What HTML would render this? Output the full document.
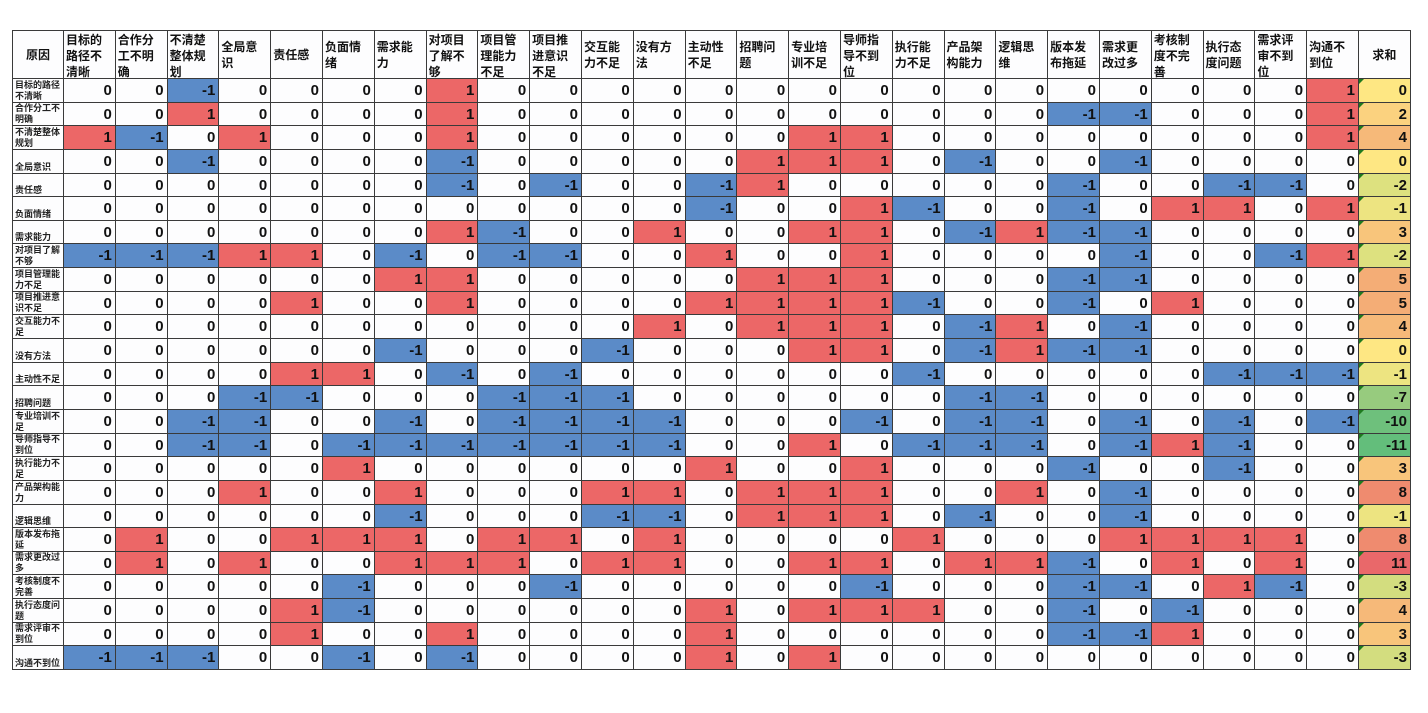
<!DOCTYPE html>
<html><head><meta charset="utf-8">
<style>
html,body{margin:0;padding:0;background:#fff;width:1428px;height:713px;overflow:hidden}
.g{position:absolute;left:12px;top:30px;display:grid;grid-template-columns:50px repeat(25,50.8px) 51px;grid-template-rows:47px repeat(25,22.65px);gap:1px;background:#3a3a3a;border:1px solid #3a3a3a}
.g>*{background:#fdfdfe;font-family:"Liberation Sans","Noto Sans CJK SC",sans-serif;overflow:hidden;box-sizing:border-box}
.t{font-size:12px;font-weight:bold;line-height:16px;padding:1px 2px;color:#111;display:flex;align-items:flex-start}
.t.c{align-items:center;justify-content:center}
.t.m{align-items:center}
.h{font-size:9px;line-height:11px;font-weight:bold;color:#222;padding:0 2px;display:flex;flex-direction:column;justify-content:flex-end}
b{font-size:15px;font-weight:bold;text-align:right;padding-right:3px;line-height:24px;color:#111;display:block}
b.r{background:#ec6767}
b.u{background:#5b8bc8}
.s{font-size:15px;font-weight:bold;text-align:right;padding-right:3px;line-height:24px;color:#111;position:relative}
.s:before{content:"";position:absolute;left:0;top:0;border-top:5px solid #1e7a1e;border-right:5px solid transparent}
</style></head><body>
<div class="g">
<div class="t c">原因</div><div class="t">目标的路径不清晰</div><div class="t">合作分工不明确</div><div class="t">不清楚整体规划</div><div class="t m">全局意识</div><div class="t m">责任感</div><div class="t m">负面情绪</div><div class="t m">需求能力</div><div class="t">对项目了解不够</div><div class="t">项目管理能力不足</div><div class="t">项目推进意识不足</div><div class="t m">交互能力不足</div><div class="t m">没有方法</div><div class="t m">主动性不足</div><div class="t m">招聘问题</div><div class="t m">专业培训不足</div><div class="t">导师指导不到位</div><div class="t m">执行能力不足</div><div class="t m">产品架构能力</div><div class="t m">逻辑思维</div><div class="t m">版本发布拖延</div><div class="t m">需求更改过多</div><div class="t">考核制度不完善</div><div class="t m">执行态度问题</div><div class="t">需求评审不到位</div><div class="t m">沟通不到位</div><div class="t c">求和</div>

<div class="h">目标的路径不清晰</div><b>0</b><b>0</b><b class=u>-1</b><b>0</b><b>0</b><b>0</b><b>0</b><b class=r>1</b><b>0</b><b>0</b><b>0</b><b>0</b><b>0</b><b>0</b><b>0</b><b>0</b><b>0</b><b>0</b><b>0</b><b>0</b><b>0</b><b>0</b><b>0</b><b>0</b><b class=r>1</b><div class="s" style="background:#fee783">0</div>

<div class="h">合作分工不明确</div><b>0</b><b>0</b><b class=r>1</b><b>0</b><b>0</b><b>0</b><b>0</b><b class=r>1</b><b>0</b><b>0</b><b>0</b><b>0</b><b>0</b><b>0</b><b>0</b><b>0</b><b>0</b><b>0</b><b>0</b><b class=u>-1</b><b class=u>-1</b><b>0</b><b>0</b><b>0</b><b class=r>1</b><div class="s" style="background:#fbd27f">2</div>

<div class="h">不清楚整体规划</div><b class=r>1</b><b class=u>-1</b><b>0</b><b class=r>1</b><b>0</b><b>0</b><b>0</b><b class=r>1</b><b>0</b><b>0</b><b>0</b><b>0</b><b>0</b><b>0</b><b class=r>1</b><b class=r>1</b><b>0</b><b>0</b><b>0</b><b>0</b><b>0</b><b>0</b><b>0</b><b>0</b><b class=r>1</b><div class="s" style="background:#f6b979">4</div>

<div class="h">全局意识</div><b>0</b><b>0</b><b class=u>-1</b><b>0</b><b>0</b><b>0</b><b>0</b><b class=u>-1</b><b>0</b><b>0</b><b>0</b><b>0</b><b>0</b><b class=r>1</b><b class=r>1</b><b class=r>1</b><b>0</b><b class=u>-1</b><b>0</b><b>0</b><b class=u>-1</b><b>0</b><b>0</b><b>0</b><b>0</b><div class="s" style="background:#fee783">0</div>

<div class="h">责任感</div><b>0</b><b>0</b><b>0</b><b>0</b><b>0</b><b>0</b><b>0</b><b class=u>-1</b><b>0</b><b class=u>-1</b><b>0</b><b>0</b><b class=u>-1</b><b class=r>1</b><b>0</b><b>0</b><b>0</b><b>0</b><b>0</b><b class=u>-1</b><b>0</b><b>0</b><b class=u>-1</b><b class=u>-1</b><b>0</b><div class="s" style="background:#dde17f">-2</div>

<div class="h">负面情绪</div><b>0</b><b>0</b><b>0</b><b>0</b><b>0</b><b>0</b><b>0</b><b>0</b><b>0</b><b>0</b><b>0</b><b>0</b><b class=u>-1</b><b>0</b><b>0</b><b class=r>1</b><b class=u>-1</b><b>0</b><b>0</b><b class=u>-1</b><b>0</b><b class=r>1</b><b class=r>1</b><b>0</b><b class=r>1</b><div class="s" style="background:#ede481">-1</div>

<div class="h">需求能力</div><b>0</b><b>0</b><b>0</b><b>0</b><b>0</b><b>0</b><b>0</b><b class=r>1</b><b class=u>-1</b><b>0</b><b>0</b><b class=r>1</b><b>0</b><b>0</b><b class=r>1</b><b class=r>1</b><b>0</b><b class=u>-1</b><b class=r>1</b><b class=u>-1</b><b class=u>-1</b><b>0</b><b>0</b><b>0</b><b>0</b><div class="s" style="background:#f8c57b">3</div>

<div class="h">对项目了解不够</div><b class=u>-1</b><b class=u>-1</b><b class=u>-1</b><b class=r>1</b><b class=r>1</b><b>0</b><b class=u>-1</b><b>0</b><b class=u>-1</b><b class=u>-1</b><b>0</b><b>0</b><b class=r>1</b><b>0</b><b>0</b><b class=r>1</b><b>0</b><b>0</b><b>0</b><b>0</b><b class=u>-1</b><b>0</b><b>0</b><b class=u>-1</b><b class=r>1</b><div class="s" style="background:#dde17f">-2</div>

<div class="h">项目管理能力不足</div><b>0</b><b>0</b><b>0</b><b>0</b><b>0</b><b>0</b><b class=r>1</b><b class=r>1</b><b>0</b><b>0</b><b>0</b><b>0</b><b>0</b><b class=r>1</b><b class=r>1</b><b class=r>1</b><b>0</b><b>0</b><b>0</b><b class=u>-1</b><b class=u>-1</b><b>0</b><b>0</b><b>0</b><b>0</b><div class="s" style="background:#f4ad76">5</div>

<div class="h">项目推进意识不足</div><b>0</b><b>0</b><b>0</b><b>0</b><b class=r>1</b><b>0</b><b>0</b><b class=r>1</b><b>0</b><b>0</b><b>0</b><b>0</b><b class=r>1</b><b class=r>1</b><b class=r>1</b><b class=r>1</b><b class=u>-1</b><b>0</b><b>0</b><b class=u>-1</b><b>0</b><b class=r>1</b><b>0</b><b>0</b><b>0</b><div class="s" style="background:#f4ad76">5</div>

<div class="h">交互能力不足</div><b>0</b><b>0</b><b>0</b><b>0</b><b>0</b><b>0</b><b>0</b><b>0</b><b>0</b><b>0</b><b>0</b><b class=r>1</b><b>0</b><b class=r>1</b><b class=r>1</b><b class=r>1</b><b>0</b><b class=u>-1</b><b class=r>1</b><b>0</b><b class=u>-1</b><b>0</b><b>0</b><b>0</b><b>0</b><div class="s" style="background:#f6b979">4</div>

<div class="h">没有方法</div><b>0</b><b>0</b><b>0</b><b>0</b><b>0</b><b>0</b><b class=u>-1</b><b>0</b><b>0</b><b>0</b><b class=u>-1</b><b>0</b><b>0</b><b>0</b><b class=r>1</b><b class=r>1</b><b>0</b><b class=u>-1</b><b class=r>1</b><b class=u>-1</b><b class=u>-1</b><b>0</b><b>0</b><b>0</b><b>0</b><div class="s" style="background:#fee783">0</div>

<div class="h">主动性不足</div><b>0</b><b>0</b><b>0</b><b>0</b><b class=r>1</b><b class=r>1</b><b>0</b><b class=u>-1</b><b>0</b><b class=u>-1</b><b>0</b><b>0</b><b>0</b><b>0</b><b>0</b><b>0</b><b class=u>-1</b><b>0</b><b>0</b><b>0</b><b>0</b><b>0</b><b class=u>-1</b><b class=u>-1</b><b class=u>-1</b><div class="s" style="background:#ede481">-1</div>

<div class="h">招聘问题</div><b>0</b><b>0</b><b>0</b><b class=u>-1</b><b class=u>-1</b><b>0</b><b>0</b><b>0</b><b class=u>-1</b><b class=u>-1</b><b class=u>-1</b><b>0</b><b>0</b><b>0</b><b>0</b><b>0</b><b>0</b><b class=u>-1</b><b class=u>-1</b><b>0</b><b>0</b><b>0</b><b>0</b><b>0</b><b>0</b><div class="s" style="background:#97cb7e">-7</div>

<div class="h">专业培训不足</div><b>0</b><b>0</b><b class=u>-1</b><b class=u>-1</b><b>0</b><b>0</b><b class=u>-1</b><b>0</b><b class=u>-1</b><b class=u>-1</b><b class=u>-1</b><b class=u>-1</b><b>0</b><b>0</b><b>0</b><b class=u>-1</b><b>0</b><b class=u>-1</b><b class=u>-1</b><b>0</b><b class=u>-1</b><b>0</b><b class=u>-1</b><b>0</b><b class=u>-1</b><div class="s" style="background:#6ec07c">-10</div>

<div class="h">导师指导不到位</div><b>0</b><b>0</b><b class=u>-1</b><b class=u>-1</b><b>0</b><b class=u>-1</b><b class=u>-1</b><b class=u>-1</b><b class=u>-1</b><b class=u>-1</b><b class=u>-1</b><b class=u>-1</b><b>0</b><b>0</b><b class=r>1</b><b>0</b><b class=u>-1</b><b class=u>-1</b><b class=u>-1</b><b>0</b><b class=u>-1</b><b class=r>1</b><b class=u>-1</b><b>0</b><b>0</b><div class="s" style="background:#63be7b">-11</div>

<div class="h">执行能力不足</div><b>0</b><b>0</b><b>0</b><b>0</b><b>0</b><b class=r>1</b><b>0</b><b>0</b><b>0</b><b>0</b><b>0</b><b>0</b><b class=r>1</b><b>0</b><b>0</b><b class=r>1</b><b>0</b><b>0</b><b>0</b><b class=u>-1</b><b>0</b><b>0</b><b class=u>-1</b><b>0</b><b>0</b><div class="s" style="background:#f8c57b">3</div>

<div class="h">产品架构能力</div><b>0</b><b>0</b><b>0</b><b class=r>1</b><b>0</b><b>0</b><b class=r>1</b><b>0</b><b>0</b><b>0</b><b class=r>1</b><b class=r>1</b><b>0</b><b class=r>1</b><b class=r>1</b><b class=r>1</b><b>0</b><b>0</b><b class=r>1</b><b>0</b><b class=u>-1</b><b>0</b><b>0</b><b>0</b><b>0</b><div class="s" style="background:#ef8b6f">8</div>

<div class="h">逻辑思维</div><b>0</b><b>0</b><b>0</b><b>0</b><b>0</b><b>0</b><b class=u>-1</b><b>0</b><b>0</b><b>0</b><b class=u>-1</b><b class=u>-1</b><b>0</b><b class=r>1</b><b class=r>1</b><b class=r>1</b><b>0</b><b class=u>-1</b><b>0</b><b>0</b><b class=u>-1</b><b>0</b><b>0</b><b>0</b><b>0</b><div class="s" style="background:#ede481">-1</div>

<div class="h">版本发布拖延</div><b>0</b><b class=r>1</b><b>0</b><b>0</b><b class=r>1</b><b class=r>1</b><b class=r>1</b><b>0</b><b class=r>1</b><b class=r>1</b><b>0</b><b class=r>1</b><b>0</b><b>0</b><b>0</b><b>0</b><b class=r>1</b><b>0</b><b>0</b><b>0</b><b class=r>1</b><b class=r>1</b><b class=r>1</b><b class=r>1</b><b>0</b><div class="s" style="background:#ef8b6f">8</div>

<div class="h">需求更改过多</div><b>0</b><b class=r>1</b><b>0</b><b class=r>1</b><b>0</b><b>0</b><b class=r>1</b><b class=r>1</b><b class=r>1</b><b>0</b><b class=r>1</b><b class=r>1</b><b>0</b><b>0</b><b class=r>1</b><b class=r>1</b><b>0</b><b class=r>1</b><b class=r>1</b><b class=u>-1</b><b>0</b><b class=r>1</b><b>0</b><b class=r>1</b><b>0</b><div class="s" style="background:#e9686a">11</div>

<div class="h">考核制度不完善</div><b>0</b><b>0</b><b>0</b><b>0</b><b>0</b><b class=u>-1</b><b>0</b><b>0</b><b>0</b><b class=u>-1</b><b>0</b><b>0</b><b>0</b><b>0</b><b>0</b><b class=u>-1</b><b>0</b><b>0</b><b>0</b><b class=u>-1</b><b class=u>-1</b><b>0</b><b class=r>1</b><b class=u>-1</b><b>0</b><div class="s" style="background:#d3dd7f">-3</div>

<div class="h">执行态度问题</div><b>0</b><b>0</b><b>0</b><b>0</b><b class=r>1</b><b class=u>-1</b><b>0</b><b>0</b><b>0</b><b>0</b><b>0</b><b>0</b><b class=r>1</b><b>0</b><b class=r>1</b><b class=r>1</b><b class=r>1</b><b>0</b><b>0</b><b class=u>-1</b><b>0</b><b class=u>-1</b><b>0</b><b>0</b><b>0</b><div class="s" style="background:#f6b979">4</div>

<div class="h">需求评审不到位</div><b>0</b><b>0</b><b>0</b><b>0</b><b class=r>1</b><b>0</b><b>0</b><b class=r>1</b><b>0</b><b>0</b><b>0</b><b>0</b><b class=r>1</b><b>0</b><b>0</b><b>0</b><b>0</b><b>0</b><b>0</b><b class=u>-1</b><b class=u>-1</b><b class=r>1</b><b>0</b><b>0</b><b>0</b><div class="s" style="background:#f8c57b">3</div>

<div class="h">沟通不到位</div><b class=u>-1</b><b class=u>-1</b><b class=u>-1</b><b>0</b><b>0</b><b class=u>-1</b><b>0</b><b class=u>-1</b><b>0</b><b>0</b><b>0</b><b>0</b><b class=r>1</b><b>0</b><b class=r>1</b><b>0</b><b>0</b><b>0</b><b>0</b><b>0</b><b>0</b><b>0</b><b>0</b><b>0</b><b>0</b><div class="s" style="background:#d3dd7f">-3</div>
</div>
</body></html>
